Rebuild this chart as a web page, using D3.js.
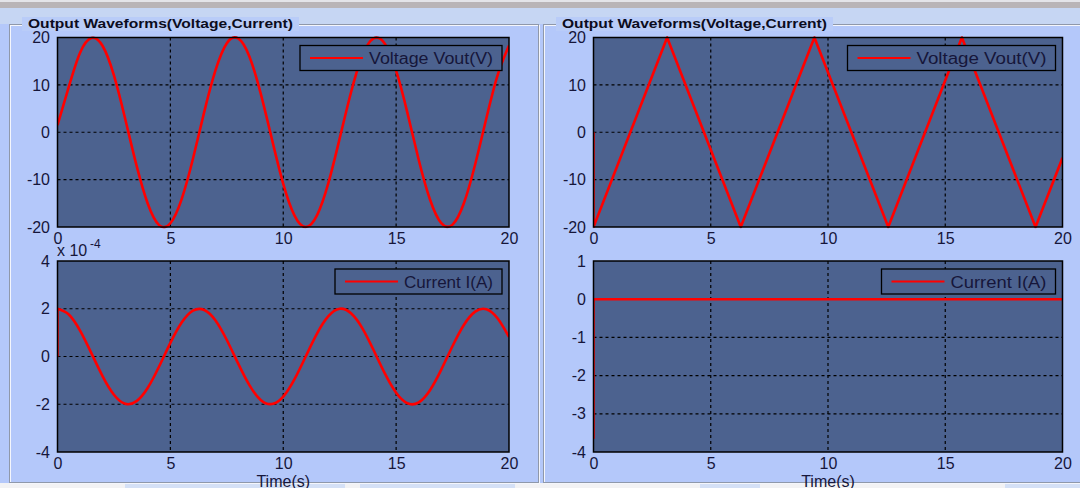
<!DOCTYPE html>
<html><head><meta charset="utf-8">
<script src="https://cdn.jsdelivr.net/npm/d3@7"></script>
<style>body{margin:0;background:#b4c8fa;overflow:hidden} svg{display:block}</style>
</head><body><svg id="c" width="1080" height="488"></svg>
<script>
// ---------------- data ----------------
const timeTicks = [0, 5, 10, 15, 20];
const voltageTicks = [-20, -10, 0, 10, 20];
const currentTicksLeft = [-4, -2, 0, 2, 4];      // x 10^-4
const currentTicksRight = [-4, -3, -2, -1, 0, 1];

const sineTimes = [0,0.5,1,1.5,2,2.5,3,3.5,4,4.5,5,5.5,6,6.5,7,7.5,8,8.5,9,9.5,10,
  10.5,11,11.5,12,12.5,13,13.5,14,14.5,15,15.5,16,16.5,17,17.5,18,18.5,19,19.5,20];
const voltageLeft = [1.5,9.6,16.8,19.9,18.2,12.0,2.8,-7.0,-15.1,-19.6,-19.2,-14.1,-5.6,4.3,13.1,18.8,19.8,16.0,8.2,-1.5,-10.9,
  -17.6,-20.0,-17.5,-10.7,-1.3,8.4,16.1,19.8,18.7,13.0,4.1,-5.8,-14.2,-19.2,-19.5,-15.0,-6.8,3.0,12.1,18.3];
const currentLeft = [2.0,1.76,1.08,0.14,-0.83,-1.60,-1.98,-1.87,-1.31,-0.42,0.57,1.42,1.92,1.95,1.51,0.69,-0.29,-1.20,-1.82,-1.99,-1.68,
  -0.95,0.01,0.97,1.69,2.00,1.81,1.19,0.27,-0.71,-1.52,-1.96,-1.92,-1.41,-0.55,0.44,1.32,1.88,1.98,1.59,0.82];
const currentLeftJumpTimes = [0, 0];
const currentLeftJump = [0, 2.0];

const triTimes = [0, 0, 3.14, 6.28, 9.42, 12.57, 15.71, 18.85, 20];
const voltageRight = [0, -20, 20, -20, 20, -20, 20, -20, -5.4];
const currentRightTimes = [0, 0, 20];
const currentRight = [-3.65, 0, 0];

const titleText = "Output Waveforms(Voltage,Current)";
const voltageLabel = "Voltage Vout(V)";
const currentLabel = "Current I(A)";
const timeLabel = "Time(s)";

// ---------------- style ----------------
const BG = "#b4c8fa", PLOT_BG = "#4c628f", RED = "#ff0000", TXT = "#16163a";
const FONT = "'Liberation Sans', Arial, sans-serif";

const svg = d3.select("#c");
svg.append("rect").attr("width",1080).attr("height",488).attr("fill",BG);
// window chrome
svg.append("rect").attr("x",0).attr("y",0).attr("width",1080).attr("height",8).attr("fill","#b9b4b6");
svg.append("rect").attr("x",0).attr("y",0).attr("width",1080).attr("height",2).attr("fill","#e4e4e8");
svg.append("rect").attr("x",0).attr("y",8).attr("width",1080).attr("height",16).attr("fill","#c6d6f3");
// bottom strip
svg.append("rect").attr("x",0).attr("y",483).attr("width",1080).attr("height",5).attr("fill","#f2f2f4");
[[125,220],[360,155],[700,60],[1005,75]].forEach(([x,w])=>svg.append("rect").attr("x",x).attr("y",484).attr("width",w).attr("height",4).attr("fill","#d4e0f6"));

// group boxes
function groupBox(x, w, titleX, titleW){
  svg.append("rect").attr("x",x+1).attr("y",25.5).attr("width",w).attr("height",458).attr("fill","none").attr("stroke","#f4f6fc").attr("stroke-width",1);
  svg.append("rect").attr("x",x).attr("y",24.5).attr("width",w).attr("height",458).attr("fill","none").attr("stroke","#8f98aa").attr("stroke-width",1);
  svg.append("rect").attr("x",titleX-6).attr("y",17).attr("width",titleW+12).attr("height",14).attr("fill","#b9ccf8");
  svg.append("text").attr("x",titleX).attr("y",28).attr("font-family",FONT).attr("font-weight","bold")
    .attr("font-size",12).attr("fill","#0c0c20").attr("textLength",titleW).attr("lengthAdjust","spacingAndGlyphs").text(titleText);
}
groupBox(9.5, 529, 28, 265);
groupBox(543.5, 600, 562, 265);

function plot(o){
  const g = svg.append("g");
  const x = d3.scaleLinear().domain([0,20]).range([o.x0,o.x1]);
  const y = d3.scaleLinear().domain(o.yDomain).range([o.y1,o.y0]);
  g.append("rect").attr("x",o.x0).attr("y",o.y0).attr("width",o.x1-o.x0).attr("height",o.y1-o.y0).attr("fill",PLOT_BG);
  // grid
  const gx = timeTicks.filter(t=>t>0&&t<20), gy = o.yTicks.filter(v=>v>o.yDomain[0]&&v<o.yDomain[1]);
  g.selectAll(".gx").data(gx).join("line").attr("x1",d=>x(d)).attr("x2",d=>x(d)).attr("y1",o.y0).attr("y2",o.y1)
    .attr("stroke","#000").attr("stroke-width",1.2).attr("stroke-dasharray","3,3");
  g.selectAll(".gy").data(gy).join("line").attr("y1",d=>y(d)).attr("y2",d=>y(d)).attr("x1",o.x0).attr("x2",o.x1)
    .attr("stroke","#000").attr("stroke-width",1.2).attr("stroke-dasharray","3,3");
  // clip
  const cid = "clip"+o.id;
  svg.append("clipPath").attr("id",cid).append("rect").attr("x",o.x0).attr("y",o.y0-1.5).attr("width",o.x1-o.x0).attr("height",o.y1-o.y0+3);
  const lc = g.append("g").attr("clip-path",`url(#${cid})`);
  o.series.forEach(s=>{
    const line = d3.line().x(d=>x(d[0])).y(d=>y(d[1])).curve(s.curve||d3.curveLinear);
    lc.append("path").attr("d",line(s.t.map((t,i)=>[t,s.v[i]]))).attr("fill","none")
      .attr("stroke",RED).attr("stroke-width",2.6).attr("stroke-linejoin","round");
  });
  // border
  g.append("rect").attr("x",o.x0).attr("y",o.y0).attr("width",o.x1-o.x0).attr("height",o.y1-o.y0)
    .attr("fill","none").attr("stroke","#000").attr("stroke-width",1.5);
  // axes
  const ax = g.append("g").attr("transform",`translate(0,${o.y1})`)
    .call(d3.axisBottom(x).tickValues(timeTicks).tickSize(0).tickPadding(6).tickFormat(d=>String(d)));
  const ay = g.append("g").attr("transform",`translate(${o.x0},0)`)
    .call(d3.axisLeft(y).tickValues(o.yTicks).tickSize(0).tickPadding(7.5).tickFormat(d=>String(d)));
  [ax,ay].forEach(a=>{a.select(".domain").remove();
    a.selectAll("text").attr("font-family",FONT).attr("font-size",16).attr("fill",TXT);});
  // legend
  const lw = o.legendW, lx = o.x1-7-lw, ly = o.y0+8, lh = 25;
  g.append("rect").attr("x",lx).attr("y",ly).attr("width",lw).attr("height",lh).attr("fill",PLOT_BG)
    .attr("stroke","#000").attr("stroke-width",1.3);
  g.append("line").attr("x1",lx+10).attr("x2",lx+63).attr("y1",ly+lh/2).attr("y2",ly+lh/2).attr("stroke",RED).attr("stroke-width",2.2);
  g.append("text").attr("x",lx+69).attr("y",ly+lh/2+6).attr("font-family",FONT).attr("font-size",16).attr("fill",TXT)
    .attr("textLength",lw-78).attr("lengthAdjust","spacingAndGlyphs").text(o.legend);
  if (o.time){
    g.append("text").attr("x",(o.x0+o.x1)/2).attr("y",486.5).attr("text-anchor","middle").attr("font-family",FONT)
      .attr("font-size",16).attr("fill",TXT).text(timeLabel);
  }
  if (o.exponent){
    g.append("text").attr("x",o.x0-0.5).attr("y",256).attr("font-family",FONT).attr("font-size",16).attr("fill",TXT).text("x 10");
    g.append("text").attr("x",o.x0+32.5).attr("y",247.5).attr("font-family",FONT).attr("font-size",12).attr("fill",TXT).text(o.exponent);
  }
}

const LX0 = 57.5, LX1 = 509, RX0 = 593.5, RX1 = 1062.5;
const TY0 = 37.5, TY1 = 227, BY0 = 261, BY1 = 452;

plot({id:1, x0:LX0, x1:LX1, y0:TY0, y1:TY1, yDomain:[-20,20], yTicks:voltageTicks, legend:voltageLabel, legendW:202,
  series:[{t:sineTimes, v:voltageLeft, curve:d3.curveNatural}]});
plot({id:2, x0:LX0, x1:LX1, y0:BY0, y1:BY1, yDomain:[-4,4], yTicks:currentTicksLeft, legend:currentLabel, legendW:167, time:true, exponent:"-4",
  series:[{t:currentLeftJumpTimes, v:currentLeftJump},{t:sineTimes, v:currentLeft, curve:d3.curveNatural}]});
plot({id:3, x0:RX0, x1:RX1, y0:TY0, y1:TY1, yDomain:[-20,20], yTicks:voltageTicks, legend:voltageLabel, legendW:208,
  series:[{t:triTimes, v:voltageRight}]});
plot({id:4, x0:RX0, x1:RX1, y0:BY0, y1:BY1, yDomain:[-4,1], yTicks:currentTicksRight, legend:currentLabel, legendW:174, time:true,
  series:[{t:currentRightTimes, v:currentRight}]});
</script></body></html>
